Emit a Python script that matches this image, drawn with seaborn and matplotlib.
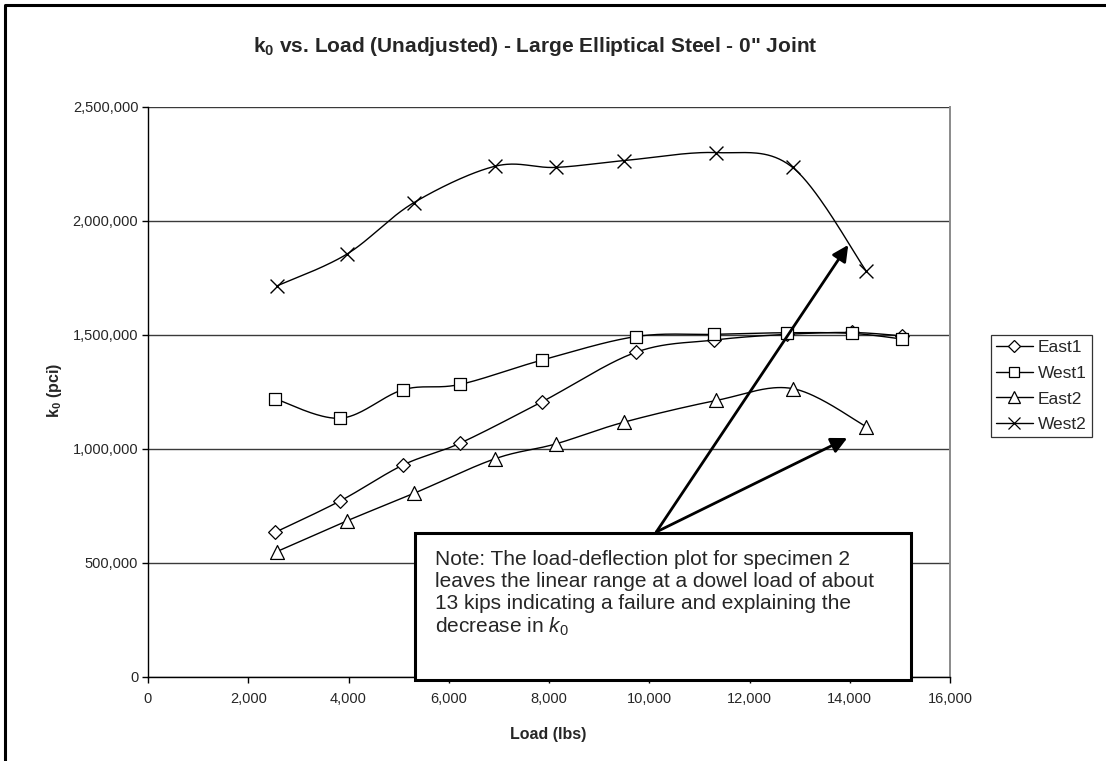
import numpy as np
import pandas as pd
import matplotlib
matplotlib.use("Agg")
import matplotlib.pyplot as plt
import seaborn as sns
from matplotlib.lines import Line2D
from matplotlib.patches import Rectangle
from matplotlib.ticker import FuncFormatter, MultipleLocator

# Dowel loads (lbs) for the two specimens
load_spec1 = [2540, 3840, 5090, 6220, 7860, 9730, 11300, 12750, 14050, 15050]
load_spec2 = [2570, 3970, 5300, 6920, 8130, 9500, 11340, 12860, 14330]

# Modulus of dowel support k0 (pci)
k_east1 = [635000, 773000, 930000, 1025000, 1207000, 1424000, 1478000, 1503000, 1511000, 1496000]
k_west1 = [1220000, 1135000, 1260000, 1283000, 1390000, 1493000, 1503000, 1510000, 1507000, 1482000]
k_east2 = [550000, 685000, 805000, 957000, 1022000, 1118000, 1213000, 1265000, 1098000]
k_west2 = [1715000, 1855000, 2080000, 2240000, 2235000, 2265000, 2300000, 2235000, 1780000]

series_names = ["East1", "West1", "East2", "West2"]

sns.set_style("white")
plt.rcParams["font.family"] = ["Liberation Sans", "DejaVu Sans"]
plt.rcParams["mathtext.fontset"] = "custom"
plt.rcParams["mathtext.rm"] = "Liberation Sans"
plt.rcParams["mathtext.it"] = "Liberation Sans:italic"
plt.rcParams["mathtext.bf"] = "Liberation Sans:bold"

W, H = 1106, 761
fig = plt.figure(figsize=(W / 100, H / 100), dpi=100)
fig.patch.set_facecolor("white")
ax_left, ax_right, ax_top, ax_bottom = 148, 950, 107, 677
ax = fig.add_axes([ax_left / W, 1 - ax_bottom / H, (ax_right - ax_left) / W, (ax_bottom - ax_top) / H])

X_MAX, Y_MAX = 16000, 2500000


def smooth(xs, ys, n=40):
    """Smoothed line through the points (cubic Bezier, Catmull-Rom control points)."""
    sx = (ax_right - ax_left) / X_MAX
    sy = (ax_bottom - ax_top) / Y_MAX
    p = np.column_stack([np.asarray(xs, float) * sx, np.asarray(ys, float) * sy])
    pts = np.vstack([p[0], p, p[-1]])
    t = np.linspace(0, 1, n)[:, None]
    parts = []
    for i in range(1, len(pts) - 2):
        p0, p1, p2, p3 = pts[i - 1], pts[i], pts[i + 1], pts[i + 2]
        c1 = p1 + (p2 - p0) / 6.0
        c2 = p2 - (p3 - p1) / 6.0
        seg = (1 - t) ** 3 * p1 + 3 * (1 - t) ** 2 * t * c1 + 3 * (1 - t) * t ** 2 * c2 + t ** 3 * p2
        parts.append(seg if i == 1 else seg[1:])
    c = np.vstack(parts)
    return c[:, 0] / sx, c[:, 1] / sy


series = [
    ("East1", load_spec1, k_east1, "D", 7.0),
    ("West1", load_spec1, k_west1, "s", 9.0),
    ("East2", load_spec2, k_east2, "^", 10.0),
    ("West2", load_spec2, k_west2, "x", 10.0),
]

# grid and axes
ax.set_xlim(0, X_MAX)
ax.set_ylim(0, Y_MAX)
ax.xaxis.set_major_locator(MultipleLocator(2000))
ax.yaxis.set_major_locator(MultipleLocator(500000))
fmt = FuncFormatter(lambda v, _: f"{v:,.0f}")
ax.xaxis.set_major_formatter(fmt)
ax.yaxis.set_major_formatter(fmt)
ax.yaxis.grid(True, color="#3a3a3a", lw=1.0, zorder=0)
ax.xaxis.grid(False)
ax.set_axisbelow(True)
for side in ("left", "bottom"):
    ax.spines[side].set_color("black")
    ax.spines[side].set_linewidth(1.0)
ax.spines["top"].set_visible(False)
ax.spines["right"].set_color("#8a8a8a")
ax.spines["right"].set_linewidth(1.4)
ax.tick_params(axis="both", direction="out", length=4, width=1, color="black",
               labelsize=10.5, pad=3, bottom=True, left=True)
ax.tick_params(axis="x", pad=7)

legend_handles = []
for name, xs, ys, m, ms in series:
    cx, cy = smooth(xs, ys)
    df = pd.DataFrame({"load": cx, "k0": cy})
    sns.lineplot(data=df, x="load", y="k0", sort=False, estimator=None,
                 color="black", lw=1.0, ax=ax, zorder=3)
    if m == "x":
        sns.scatterplot(x=xs, y=ys, marker=m, s=ms ** 2, color="black",
                        linewidth=1.0, ax=ax, zorder=4)
    else:
        sns.scatterplot(x=xs, y=ys, marker=m, s=ms ** 2, facecolor="white",
                        edgecolor="black", linewidth=0.9, ax=ax, zorder=4)
    legend_handles.append(Line2D([0], [0], color="black", lw=1.0, marker=m,
                                 markersize=ms * (0.85 if m != "D" else 0.9),
                                 markerfacecolor="white", markeredgecolor="black",
                                 markeredgewidth=0.9))

ax.set_xlabel("")
ax.set_ylabel("")

# Note box with arrows to the failing specimen-2 curves
box = Rectangle((0.333, -0.006), 0.9514 - 0.333, 0.2526 + 0.006, transform=ax.transAxes,
                facecolor="white", edgecolor="black", lw=2.2, zorder=6, clip_on=False)
ax.add_patch(box)
ax.text(0.358, 0.222,
        "Note: The load-deflection plot for specimen 2\n"
        "leaves the linear range at a dowel load of about\n"
        "13 kips indicating a failure and explaining the\n"
        r"decrease in $\mathit{k}_{\mathit{0}}$",
        transform=ax.transAxes, ha="left", va="top", fontsize=15,
        linespacing=1.18, zorder=7)

arrow_base = (10140, 636000)
arrow_tips = [(13970, 1895000), (13950, 1048000)]
for tip in arrow_tips:
    ax.annotate("", xy=tip, xytext=arrow_base,
                arrowprops=dict(arrowstyle="-|>", mutation_scale=24, lw=2.0,
                                color="black", shrinkA=0, shrinkB=0),
                zorder=8)

# Legend
leg = fig.legend(legend_handles, series_names, loc="upper left",
                 bbox_to_anchor=(991 / W, 1 - 335 / H), frameon=True, fancybox=False,
                 fontsize=12.5, handlelength=2.1, handletextpad=0.3, labelspacing=0.6,
                 borderpad=0.3, borderaxespad=0)
leg.get_frame().set_edgecolor("black")
leg.get_frame().set_linewidth(0.9)

# Titles
fig.text(535 / W, 1 - 47 / H,
         r'$\mathbf{k}_{\mathbf{0}}$ vs. Load (Unadjusted) - Large Elliptical Steel - 0" Joint',
         ha="center", va="center", fontsize=15, fontweight="bold")
fig.text(548 / W, 1 - 735 / H, "Load (lbs)", ha="center", va="center",
         fontsize=11.5, fontweight="bold")
fig.text(55 / W, 1 - 390 / H, r"$\mathbf{k}_{\mathbf{0}}$ (pci)", ha="center", va="center",
         rotation=90, fontsize=11.5, fontweight="bold")

# Chart area border (top and left edges; the rest lies outside the canvas)
fig.add_artist(Line2D([5 / W, 5 / W, 1.2], [-0.2, 1 - 5 / H, 1 - 5 / H],
                      transform=fig.transFigure, color="black", lw=2.2))

fig.savefig("out.png", dpi=100)
